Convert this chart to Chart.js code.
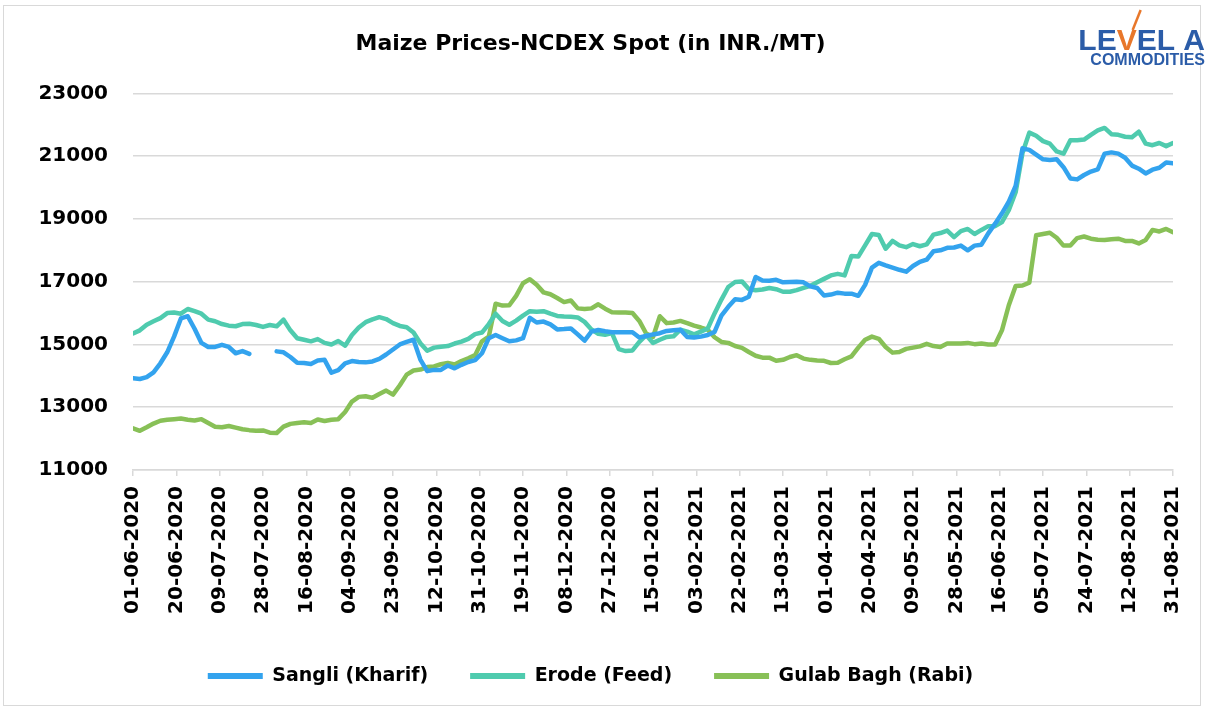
<!DOCTYPE html>
<html><head><meta charset="utf-8">
<script src="https://cdn.jsdelivr.net/npm/chart.js@4.4.0/dist/chart.umd.min.js"></script>
<style>html,body{margin:0;padding:0;background:#fff;overflow:hidden;}</style>
</head><body>
<canvas id="c" width="1207" height="709"></canvas>
<script>
// ---- data ----
const chartTitle = 'Maize Prices-NCDEX Spot (in INR./MT)';
const seriesNames = ['Sangli (Kharif)', 'Erode (Feed)', 'Gulab Bagh (Rabi)'];
// tick labels every 19 days from 01-06-2020 to 31-08-2021
const tickLabels = ['01-06-2020','20-06-2020','09-07-2020','28-07-2020','16-08-2020','04-09-2020','23-09-2020','12-10-2020','31-10-2020','19-11-2020','08-12-2020','27-12-2020','15-01-2021','03-02-2021','22-02-2021','13-03-2021','01-04-2021','20-04-2021','09-05-2021','28-05-2021','16-06-2021','05-07-2021','24-07-2021','12-08-2021','31-08-2021'];
const tickEveryDays = 19;
const totalDays = 456;           // days from 01-06-2020 to 31-08-2021
const sampleEveryDays = 3;       // values below are read every 3 days
const sangli = [
13920,13900,13960,14110,14400,14750,15250,15830,15900,15500,
15050,14920,14920,14990,14920,14720,14790,14700,null,null,
null,14780,14750,14600,14420,14410,14380,14490,14510,14100,
14180,14400,14470,14440,14430,14460,14540,14680,14840,15000,
15080,15150,14520,14150,14190,14190,14330,14240,14350,14440,
14500,14720,15200,15300,15200,15100,15130,15200,15850,15700,
15730,15640,15480,15490,15510,15320,15120,15410,15460,15420,
15390,15390,15390,15390,15220,15270,15320,15360,15430,15450,
15470,15240,15220,15250,15300,15400,15920,16200,16440,16420,
16520,17150,17040,17030,17060,16980,16990,17000,16980,16850,
16800,16560,16590,16650,16620,16620,16550,16900,17450,17600,
17520,17450,17380,17320,17500,17630,17700,17970,18000,18080,
18090,18150,18000,18150,18180,18540,18850,19180,19550,20050,
21250,21200,21050,20900,20880,20900,20650,20290,20260,20400,
20510,20580,21080,21120,21080,20950,20700,20600,20450,20570,
20630,20800,20770];
const erode = [
15350,15450,15630,15740,15840,16000,16020,15980,16130,16060,
15980,15790,15740,15650,15600,15580,15650,15660,15620,15560,
15620,15580,15790,15450,15200,15150,15100,15170,15050,15000,
15110,14960,15300,15540,15710,15800,15870,15810,15680,15590,
15550,15380,15040,14800,14900,14930,14950,15030,15090,15180,
15330,15380,15650,15980,15750,15630,15760,15920,16060,16040,
16060,15980,15910,15890,15880,15860,15720,15480,15340,15310,
15360,14850,14790,14810,15080,15300,15050,15150,15240,15260,
15470,15410,15320,15410,15510,15990,16430,16830,16990,17010,
16770,16730,16750,16800,16760,16680,16680,16730,16800,16870,
16980,17090,17200,17250,17200,17820,17800,18160,18520,18490,
18050,18300,18160,18100,18200,18130,18190,18500,18550,18630,
18420,18610,18680,18520,18650,18770,18770,18900,19280,19850,
21100,21750,21650,21480,21400,21150,21080,21510,21510,21530,
21680,21820,21900,21700,21680,21620,21600,21780,21400,21350,
21420,21320,21420];
const gulabBagh = [
12330,12250,12360,12480,12570,12600,12620,12640,12600,12580,
12620,12500,12380,12360,12400,12350,12300,12270,12250,12260,
12190,12180,12380,12470,12500,12520,12500,12610,12560,12600,
12620,12850,13180,13330,13350,13300,13420,13530,13400,13700,
14040,14170,14200,14280,14300,14370,14410,14360,14470,14560,
14660,15100,15250,16300,16240,16250,16550,16950,17080,16900,
16660,16600,16480,16350,16400,16150,16130,16150,16280,16140,
16030,16020,16020,16000,15750,15350,15240,15900,15680,15700,
15750,15680,15600,15540,15470,15230,15080,15050,14950,14890,
14760,14640,14580,14580,14480,14510,14600,14660,14550,14510,
14490,14480,14410,14420,14530,14620,14900,15150,15250,15180,
14920,14740,14760,14860,14900,14940,15020,14950,14920,15030,
15030,15030,15050,15010,15030,15000,15000,15450,16250,16860,
16880,16970,18480,18520,18560,18400,18150,18150,18390,18440,
18370,18340,18330,18350,18370,18300,18300,18220,18330,18650,
18600,18680,18580];
const colors = ['#33A3EE', '#4FCBAE', '#88C057'];
const yMin = 11000, yMax = 23000, yStep = 2000;

// ---- chart ----
const FONT = '"DejaVu Sans", sans-serif';
const toPoints = arr => arr.map((v, i) => ({x: i * sampleEveryDays, y: v}));
const seriesData = [sangli, erode, gulabBagh];

const extras = {
  id: 'extras',
  beforeDraw(chart) {
    const ctx = chart.ctx;
    ctx.save();
    ctx.strokeStyle = '#D9D9D9';
    ctx.lineWidth = 1;
    ctx.strokeRect(3.5, 5.5, 1197, 700);
    ctx.restore();
  },
  afterDraw(chart) {
    const ctx = chart.ctx;
    ctx.save();
    const blue = '#2B5CA8', orange = '#E8772A';
    ctx.font = 'bold 30px "Liberation Sans", sans-serif';
    ctx.textBaseline = 'alphabetic';
    const parts = [['LE', blue], ['V', orange], ['EL A', blue]];
    const total = parts.reduce((s, p) => s + ctx.measureText(p[0]).width, 0);
    let x = 1205 - total;
    const y = 50;
    let vRight = 0;
    for (const [t, c] of parts) {
      ctx.fillStyle = c;
      ctx.fillText(t, x, y);
      x += ctx.measureText(t).width;
      if (t === 'V') vRight = x;
    }
    ctx.strokeStyle = orange;
    ctx.lineWidth = 2.5;
    ctx.beginPath();
    ctx.moveTo(vRight - 4, 30);
    ctx.lineTo(vRight + 4, 10);
    ctx.stroke();
    ctx.fillStyle = blue;
    ctx.font = 'bold 16px "Liberation Sans", sans-serif';
    const cw = ctx.measureText('COMMODITIES').width;
    ctx.fillText('COMMODITIES', 1205 - cw, 65);
    ctx.restore();
  }
};

new Chart(document.getElementById('c'), {
  type: 'line',
  data: {
    datasets: seriesNames.map((name, k) => ({
      label: name,
      data: toPoints(seriesData[k]),
      borderColor: colors[k],
      backgroundColor: colors[k],
      borderWidth: 4.5,
      pointRadius: 0,
      pointHoverRadius: 0,
      tension: 0,
      fill: false,
      spanGaps: false,
      borderCapStyle: 'round',
      borderJoinStyle: 'round'
    }))
  },
  options: {
    responsive: false,
    animation: false,
    devicePixelRatio: 1,
    layout: {padding: {left: 0, right: 26, top: 0, bottom: 13.5}},
    plugins: {
      title: {
        display: true,
        text: chartTitle,
        color: '#000',
        font: {family: FONT, size: 22, weight: 'bold'},
        padding: {top: 31, bottom: 36}
      },
      legend: {
        display: true,
        position: 'bottom',
        labels: {
          color: '#000',
          font: {family: FONT, size: 19, weight: 'bold'},
          boxWidth: 55,
          boxHeight: 6,
          padding: 42,
          generateLabels: (chart) => Chart.defaults.plugins.legend.labels.generateLabels(chart).map(l => Object.assign(l, {lineWidth: 0}))
        }
      },
      tooltip: {enabled: false}
    },
    scales: {
      x: {
        type: 'linear',
        min: 0,
        max: totalDays,
        afterFit: s => { s.height = 154.5; },
        ticks: {
          stepSize: tickEveryDays,
          autoSkip: false,
          maxRotation: 90,
          minRotation: 90,
          padding: 10,
          color: '#000',
          font: {family: FONT, size: 20, weight: 'bold'},
          callback: v => tickLabels[Math.round(v / tickEveryDays)]
        },
        grid: {drawOnChartArea: false, drawTicks: true, tickLength: 6, color: '#D9D9D9', lineWidth: 1.5},
        border: {display: true, color: '#D9D9D9', width: 1.5}
      },
      y: {
        min: yMin,
        max: yMax,
        afterFit: s => { s.width = 133; },
        ticks: {
          stepSize: yStep,
          padding: 25,
          color: '#000',
          font: {family: FONT, size: 20, weight: 'bold'},
          callback: v => String(v)
        },
        grid: {color: '#D9D9D9', lineWidth: 1.5, drawTicks: false},
        border: {display: false}
      }
    }
  },
  plugins: [extras]
});
</script>
</body></html>
